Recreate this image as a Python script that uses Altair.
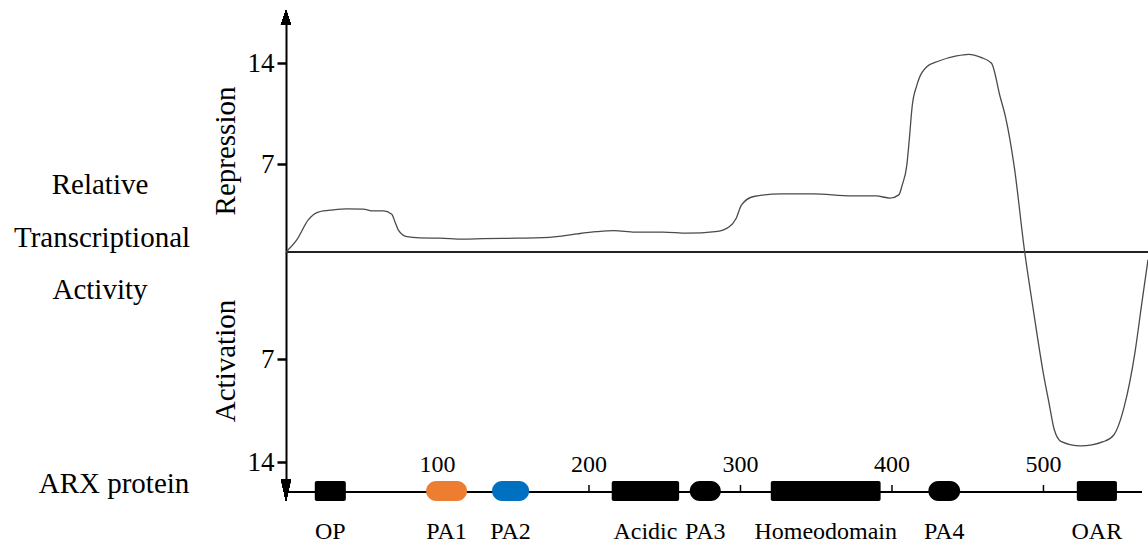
import altair as alt
import pandas as pd

# ---- data ----
pos = [0, 7.1, 14.7, 21.3, 31.2, 40.1, 51.0, 57.6, 64.2, 69.8, 71.9, 74.1, 79.7, 88.4, 101.7,
       117.0, 130.2, 152.3, 169.8, 178.7, 191.9, 205.1, 216.5, 230.4, 248.8, 265.0, 283.4,
       292.6, 297.2, 300.7, 308.8, 327.3, 348.0, 373.4, 389.5, 398.7, 404.5, 406.8, 409.8,
       411.4, 413.3, 416.5, 423.0, 431.0, 442.6, 450.6, 458.7, 465.7, 471.4, 474.9, 480.7,
       487.6, 493.3, 500.3, 503.7, 507.2, 511.8, 524.5, 539.5, 546.4, 553.3, 560.3, 564.9, 569]
activity = [0, 0.96, 2.56, 3.18, 3.36, 3.44, 3.42, 3.28, 3.28, 3.02, 2.42, 1.76, 1.22, 1.12, 1.10,
            1.02, 1.06, 1.10, 1.14, 1.22, 1.44, 1.62, 1.70, 1.58, 1.58, 1.50, 1.62,
            2.02, 2.70, 3.76, 4.43, 4.64, 4.64, 4.48, 4.48, 4.30, 4.56, 5.36, 6.94,
            8.68, 10.99, 12.50, 13.76, 14.16, 14.51, 14.62, 14.41, 14.0, 11.68, 10.30, 6.81,
            0, -3.79, -8.20, -10.0, -11.81, -12.60, -12.89, -12.60, -12.15, -10.23, -6.63, -3.36, -0.5]

y_ticks = [-14, -7, 7, 14]
protein_ticks = [100, 200, 300, 400, 500]
protein_length = 565

dom_names = ["OP", "PA1", "PA2", "Acidic", "PA3", "Homeodomain", "PA4", "OAR"]
dom_start = [19, 92.5, 136, 215, 266.5, 320, 424, 522]
dom_end = [39.5, 119.5, 160.5, 259.5, 287, 392.5, 445, 548.5]
dom_color = ["#000000", "#ED7D31", "#0070C0", "#000000", "#000000", "#000000", "#000000", "#000000"]
dom_pill = [False, True, True, False, True, False, True, False]

FONT = "Liberation Serif"

curve = pd.DataFrame({"pos": pos, "v": activity})
doms = pd.DataFrame({"name": dom_names, "start": dom_start, "end": dom_end,
                     "color": dom_color, "pill": dom_pill})
doms["mid"] = (doms["start"] + doms["end"]) / 2
ticks = pd.DataFrame({"t": protein_ticks})

xscale = alt.Scale(domain=[0, 569], nice=False, zero=False)
yscale = alt.Scale(domain=[-16.04, -14, -7, 0, 7, 14, 17.56],
                   range=[492, 462.3, 359, 252, 164.3, 63.3, 12], nice=False, zero=False)
yaxis = alt.Axis(values=y_ticks, labelExpr="abs(datum.value)", grid=False,
                 domainColor="black", domainWidth=2, tickColor="black", tickWidth=2.5,
                 tickSize=9, labelFont=FONT, labelFontSize=27, labelColor="black",
                 labelPadding=3, title=None)

line = alt.Chart(curve).mark_line(color="#4a4a4a", strokeWidth=1.3, interpolate="monotone").encode(
    x=alt.X("pos:Q", scale=xscale, axis=None),
    y=alt.Y("v:Q", scale=yscale, axis=yaxis),
)

baseline = alt.Chart(curve).mark_rule(color="#222222", strokeWidth=1).encode(
    x=alt.X(datum=0, scale=xscale, axis=None),
    x2=alt.datum(569),
    y=alt.Y(datum=0, scale=yscale, axis=yaxis),
)

arrow_up = alt.Chart(curve).mark_point(shape="M0,-1L0.67,1L-0.67,1Z", filled=True, size=225,
                                       color="black", opacity=1, strokeWidth=0).encode(
    x=alt.X(datum=0, scale=xscale, axis=None), y=alt.value(17.5))
arrow_down = alt.Chart(curve).mark_point(shape="M0,1L0.45,-1L-0.45,-1Z", filled=True, size=484,
                                         color="black", opacity=1, strokeWidth=0).encode(
    x=alt.X(datum=0, scale=xscale, axis=None), y=alt.value(490))

track = alt.Chart(curve).mark_rule(color="black", strokeWidth=2).encode(
    x=alt.X(datum=0, scale=xscale, axis=None), x2=alt.datum(protein_length), y=alt.value(492))

tick_marks = alt.Chart(ticks).mark_rule(color="black", strokeWidth=1.5).encode(
    x=alt.X("t:Q", scale=xscale, axis=None), y=alt.value(485), y2=alt.value(492))
tick_labels = alt.Chart(ticks).mark_text(font=FONT, fontSize=24, color="black",
                                         baseline="alphabetic").encode(
    x=alt.X("t:Q", scale=xscale, axis=None), y=alt.value(472), text="t:Q")

pills = alt.Chart(doms).transform_filter("datum.pill").mark_bar(cornerRadius=10).encode(
    x=alt.X("start:Q", scale=xscale, axis=None), x2="end:Q",
    y=alt.value(481), y2=alt.value(501), color=alt.Color("color:N", scale=None))
boxes = alt.Chart(doms).transform_filter("!datum.pill").mark_bar(cornerRadius=2).encode(
    x=alt.X("start:Q", scale=xscale, axis=None), x2="end:Q",
    y=alt.value(481), y2=alt.value(501), color=alt.Color("color:N", scale=None))
dom_labels = alt.Chart(doms).mark_text(font=FONT, fontSize=24, color="black",
                                       baseline="alphabetic").encode(
    x=alt.X("mid:Q", scale=xscale, axis=None), y=alt.value(539), text="name:N")

left_text = pd.DataFrame({
    "label": ["Relative", "Transcriptional", "Activity", "ARX protein"],
    "px": [-186, -184, -186, -172],
    "py": [194, 247, 299, 493],
})
left = alt.Chart(left_text).mark_text(font=FONT, fontSize=29, color="black",
                                      baseline="alphabetic").encode(
    x=alt.X("px:Q", scale=None), y=alt.Y("py:Q", scale=None), text="label:N")

side_text = pd.DataFrame({"label": ["Repression", "Activation"], "px": [-60, -60], "py": [151, 361]})
side = alt.Chart(side_text).mark_text(font=FONT, fontSize=29, color="black", angle=270,
                                      baseline="middle").encode(
    x=alt.X("px:Q", scale=None), y=alt.Y("py:Q", scale=None), text="label:N")

chart = alt.layer(baseline, line, track, tick_marks, tick_labels, pills, boxes, dom_labels,
                  arrow_up, arrow_down, left, side).properties(
    width=862, height=544,
    autosize=alt.AutoSizeParams(type="none"),
    padding={"left": 286, "top": 0, "right": 0, "bottom": 0},
    background="white",
).configure_view(stroke=None)

chart.save("out.html", embed_options={"renderer": "svg", "actions": False})
